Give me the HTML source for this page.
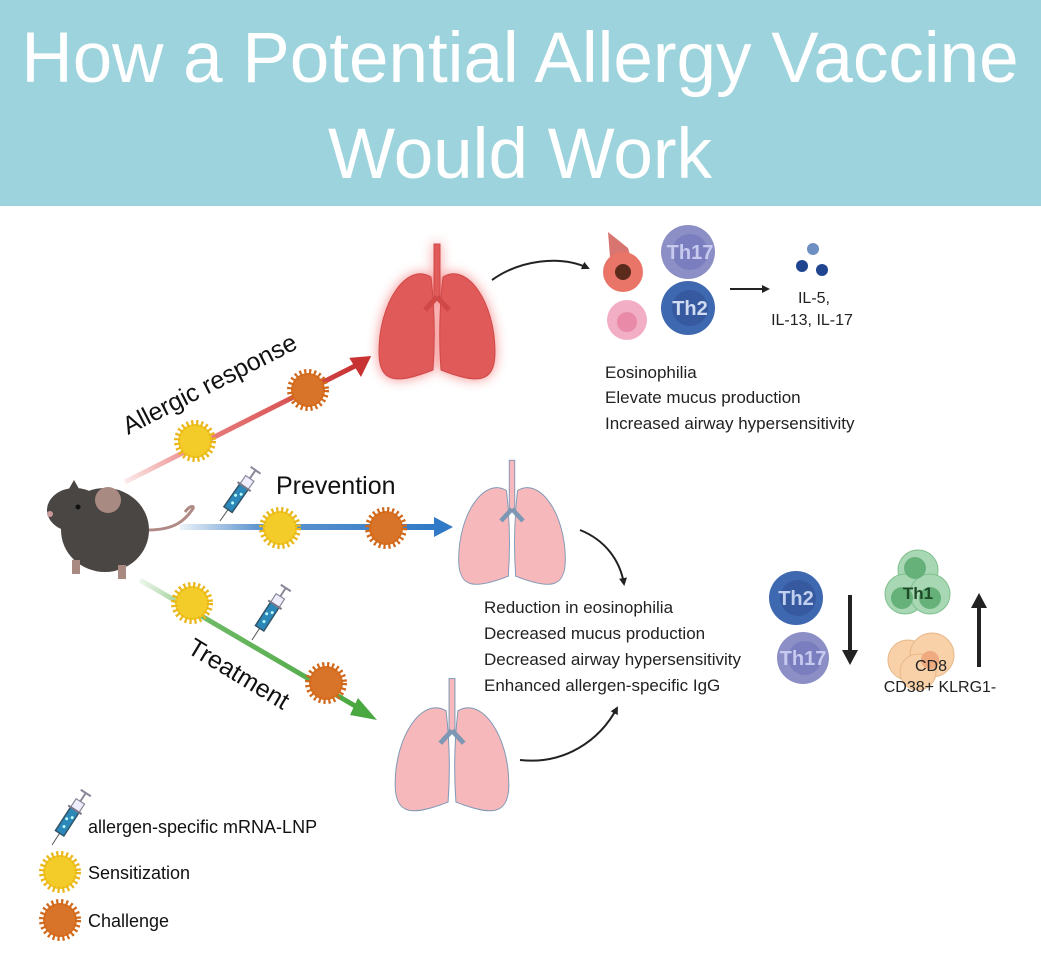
<!DOCTYPE html>
<html><head><meta charset="utf-8"><style>
body{margin:0;background:#fff;}
svg{display:block;font-family:"Liberation Sans",sans-serif;}
</style></head><body>
<svg width="1041" height="979" viewBox="0 0 1041 979" xmlns="http://www.w3.org/2000/svg">
<defs>
<linearGradient id="gr" gradientUnits="userSpaceOnUse" x1="125" y1="482" x2="355" y2="366"><stop offset="0" stop-color="#d33" stop-opacity="0.1"/><stop offset="0.3" stop-color="#d33" stop-opacity="0.6"/><stop offset="1" stop-color="#c83232"/></linearGradient>
<linearGradient id="gb" gradientUnits="userSpaceOnUse" x1="180" y1="527" x2="436" y2="527"><stop offset="0" stop-color="#3a7cc4" stop-opacity="0.1"/><stop offset="0.3" stop-color="#3a7cc4" stop-opacity="0.8"/><stop offset="1" stop-color="#2f79c6"/></linearGradient>
<linearGradient id="gg" gradientUnits="userSpaceOnUse" x1="140" y1="580" x2="362" y2="710"><stop offset="0" stop-color="#4aa840" stop-opacity="0.1"/><stop offset="0.3" stop-color="#4aa840" stop-opacity="0.8"/><stop offset="1" stop-color="#4aa840"/></linearGradient>
<filter id="glow"><feGaussianBlur stdDeviation="6"/></filter>
<marker id="ah" markerWidth="8" markerHeight="8" refX="6" refY="4" orient="auto" markerUnits="userSpaceOnUse"><path d="M0,0 L8,4 L0,8 z" fill="#222"/></marker>
<g id="yb"><circle r="17" fill="#f1c81e" stroke="#e9b517" stroke-width="8" stroke-dasharray="2 2.5"/><circle r="15" fill="#f3cc2a"/></g>
<g id="ob"><circle r="17" fill="#d9701f" stroke="#d0671a" stroke-width="8" stroke-dasharray="2 2.5"/><circle r="15" fill="#d8732a"/></g>
<g id="syr"><line x1="0" y1="0" x2="0" y2="-14" stroke="#555" stroke-width="1"/><rect x="-5" y="-42" width="10" height="28" fill="#2b88b8" stroke="#33556a" stroke-width="1.5"/><circle cx="0" cy="-22" r="1.5" fill="#bff"/><circle cx="-2" cy="-30" r="1.5" fill="#bff"/><circle cx="2" cy="-34" r="1.5" fill="#bff"/><rect x="-5" y="-52" width="10" height="10" fill="#eef" stroke="#889" stroke-width="1.2"/><line x1="-8" y1="-42" x2="8" y2="-42" stroke="#778" stroke-width="2"/><line x1="0" y1="-52" x2="0" y2="-62" stroke="#889" stroke-width="2"/><line x1="-6" y1="-62" x2="6" y2="-62" stroke="#889" stroke-width="2"/></g>
<g id="lung"><path d="M-6,-45 C-30,-60 -58,-20 -58,30 C-58,62 -40,62 -4,48 C-2,20 -2,-10 -6,-45z"/><path d="M6,-45 C30,-60 58,-20 58,30 C58,62 40,62 4,48 C2,20 2,-10 6,-45z"/><rect x="-3" y="-78" width="6" height="55"/><path d="M0,-25 L-12,-12 M0,-25 L12,-12" stroke-width="5" fill="none"/></g>
</defs>

<rect x="0" y="0" width="1041" height="206" fill="#9dd3dc"/>
<text x="520" y="82" font-size="71" fill="#fff" text-anchor="middle">How a Potential Allergy Vaccine</text>
<text x="520" y="178" font-size="71" fill="#fff" text-anchor="middle">Would Work</text>

<line x1="125" y1="482" x2="355" y2="366" stroke="url(#gr)" stroke-width="5"/>
<path d="M350,357 L372,357 L360,377 z" fill="#c83232" transform="rotate(-5 360 366)"/>
<line x1="180" y1="527" x2="436" y2="527" stroke="url(#gb)" stroke-width="6"/>
<path d="M434,517 L453,527 L434,537 z" fill="#2f79c6"/>
<line x1="140" y1="580" x2="362" y2="710" stroke="url(#gg)" stroke-width="5"/>
<path d="M358,698 L377,720 L350,715 z" fill="#4aa840"/>

<use href="#yb" x="195" y="441"/>
<use href="#ob" x="308" y="390"/>
<use href="#yb" x="280" y="528"/>
<use href="#ob" x="386" y="528"/>
<use href="#yb" x="192" y="603"/>
<use href="#ob" x="326" y="683"/>

<use href="#syr" transform="translate(220,521) rotate(35)"/>
<use href="#syr" transform="translate(252,640) rotate(33)"/>
<use href="#syr" transform="translate(52,845) rotate(33)"/>

<text font-size="25" fill="#111" transform="translate(128,435) rotate(-27)">Allergic response</text>
<text x="276" y="494" font-size="25" fill="#111">Prevention</text>
<text font-size="25" fill="#111" transform="translate(186,652) rotate(31)">Treatment</text>

<g>
<path d="M148,530 C175,530 185,520 192,510 C196,505 190,505 185,512" stroke="#b08a84" stroke-width="3" fill="none"/>
<ellipse cx="105" cy="530" rx="44" ry="42" fill="#4a4644"/>
<ellipse cx="75" cy="510" rx="28" ry="22" fill="#4a4644"/>
<circle cx="108" cy="500" r="13" fill="#a88a82"/>
<path d="M66,494 L74,480 L82,494z" fill="#4a4644"/>
<circle cx="50" cy="514" r="3" fill="#c99"/>
<circle cx="78" cy="507" r="2.5" fill="#111"/>
<rect x="72" y="560" width="8" height="14" fill="#a88a82"/>
<rect x="118" y="565" width="8" height="14" fill="#a88a82"/>
</g>

<g transform="translate(437,322)"><g filter="url(#glow)" fill="#f04040" stroke="#f04040" opacity="0.6"><use href="#lung"/></g><g fill="#e05a5a" stroke="#d04848"><use href="#lung"/></g></g>
<g transform="translate(512,532) scale(0.92)" fill="#f6b8bb" stroke="#7d97b5"><use href="#lung"/></g>
<g transform="translate(452,755) scale(0.98)" fill="#f6b8bb" stroke="#7d97b5"><use href="#lung"/></g>

<path d="M492,280 C520,260 560,255 588,268" stroke="#222" stroke-width="2" fill="none" marker-end="url(#ah)"/>
<path d="M580,530 C605,540 620,560 624,584" stroke="#222" stroke-width="2" fill="none" marker-end="url(#ah)"/>
<path d="M520,760 C565,765 600,740 617,708" stroke="#222" stroke-width="2" fill="none" marker-end="url(#ah)"/>

<path d="M608,232 L628,248 L636,275 L612,282 Z" fill="#d87570"/>
<circle cx="623" cy="272" r="20" fill="#e97468"/>
<circle cx="623" cy="272" r="8" fill="#5b2a1a"/>
<circle cx="627" cy="320" r="20" fill="#f2aec5"/>
<circle cx="627" cy="322" r="10" fill="#e88aa8"/>
<circle cx="688" cy="252" r="27" fill="#8b8fc6"/><circle cx="690" cy="252" r="18" fill="#7a7ebf"/>
<text x="690" y="259" font-size="20" font-weight="bold" fill="#c7c9ee" text-anchor="middle">Th17</text>
<circle cx="688" cy="308" r="27" fill="#3e68b0"/><circle cx="690" cy="308" r="18" fill="#36599f"/>
<text x="690" y="315" font-size="20" font-weight="bold" fill="#d0dcf2" text-anchor="middle">Th2</text>
<line x1="730" y1="289" x2="768" y2="289" stroke="#222" stroke-width="2" marker-end="url(#ah)"/>
<circle cx="813" cy="249" r="6" fill="#6e8fc2"/>
<circle cx="802" cy="266" r="6" fill="#1f4590"/>
<circle cx="822" cy="270" r="6" fill="#1f4590"/>
<text x="814" y="303" font-size="16" fill="#222" text-anchor="middle">IL-5,</text>
<text x="812" y="325" font-size="16" fill="#222" text-anchor="middle">IL-13, IL-17</text>
<g font-size="17" fill="#222">
<text x="605" y="378">Eosinophilia</text>
<text x="605" y="403">Elevate mucus production</text>
<text x="605" y="429">Increased airway hypersensitivity</text>
<text x="484" y="613">Reduction in eosinophilia</text>
<text x="484" y="639">Decreased mucus production</text>
<text x="484" y="665">Decreased airway hypersensitivity</text>
<text x="484" y="691">Enhanced allergen-specific IgG</text>
</g>

<circle cx="796" cy="598" r="27" fill="#3e68b0"/><circle cx="798" cy="598" r="18" fill="#36599f"/>
<text x="796" y="605" font-size="20" font-weight="bold" fill="#c0d0ee" text-anchor="middle">Th2</text>
<circle cx="803" cy="658" r="26" fill="#8b8fc6"/><circle cx="805" cy="658" r="17" fill="#7a7ebf"/>
<text x="803" y="665" font-size="20" font-weight="bold" fill="#c7c9ee" text-anchor="middle">Th17</text>
<line x1="850" y1="595" x2="850" y2="650" stroke="#222" stroke-width="4"/>
<path d="M842,650 L858,650 L850,665z" fill="#222"/>
<line x1="979" y1="667" x2="979" y2="608" stroke="#222" stroke-width="4"/>
<path d="M971,608 L987,608 L979,593z" fill="#222"/>
<g fill="#a8d8b3" stroke="#7fbf8e"><circle cx="918" cy="570" r="20"/><circle cx="905" cy="594" r="20"/><circle cx="930" cy="594" r="20"/></g>
<g fill="#66b07a"><circle cx="915" cy="568" r="11"/><circle cx="902" cy="598" r="11"/><circle cx="930" cy="598" r="11"/></g>
<text x="918" y="599" font-size="17" font-weight="bold" fill="#1e4a28" text-anchor="middle">Th1</text>
<g fill="#f8d1a8" stroke="#e8b88a"><circle cx="908" cy="660" r="20"/><circle cx="932" cy="655" r="22"/><circle cx="918" cy="672" r="18"/></g>
<circle cx="930" cy="660" r="9" fill="#efaa80"/>
<text x="931" y="671" font-size="16" fill="#222" text-anchor="middle">CD8</text>
<text x="940" y="692" font-size="16" fill="#222" text-anchor="middle">CD38+ KLRG1-</text>

<use href="#yb" x="60" y="872"/>
<use href="#ob" x="60" y="920"/>
<g font-size="18" fill="#111">
<text x="88" y="833">allergen-specific mRNA-LNP</text>
<text x="88" y="879">Sensitization</text>
<text x="88" y="927">Challenge</text>
</g>
</svg>
</body></html>
